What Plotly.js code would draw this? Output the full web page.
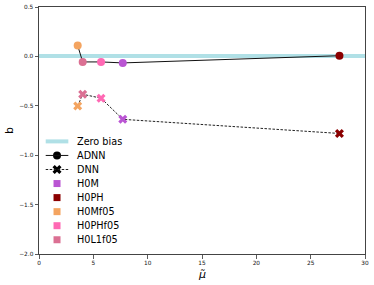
<!DOCTYPE html>
<html>
<head>
<meta charset="utf-8">
<script src="https://cdn.plot.ly/plotly-3.0.1.min.js"></script>
<style>html,body{margin:0;padding:0;background:#fff;}#chart{width:374px;height:285px;}</style>
</head>
<body>
<div id="chart"></div>
<script>
// Data
const categories = ['H0M', 'H0PH', 'H0Mf05', 'H0PHf05', 'H0L1f05'];
const categoryColors = ['#BA55D3', '#8B0000', '#F4A460', '#FF69B4', '#DB7093'];
const muTilde = [7.71, 27.65, 3.56, 5.71, 4.02];
const bADNN = [-0.066, 0.007, 0.11, -0.056, -0.056];
const bDNN = [-0.637, -0.78, -0.503, -0.423, -0.383];
const xTicks = [0, 5, 10, 15, 20, 25, 30];
const yTicks = [0.5, 0.0, -0.5, -1.0, -1.5, -2.0];
const xTitle = '<i>μ̃</i>';
const yTitle = 'b';

// sort by mu for connecting lines
const order = muTilde.map((v, i) => i).sort((a, b) => muTilde[a] - muTilde[b]);
const pick = (arr) => order.map(i => arr[i]);

const traces = [];
traces.push({
  x: pick(muTilde), y: pick(bADNN), mode: 'lines+markers', type: 'scatter',
  line: {color: '#111', width: 1},
  marker: {symbol: 'circle', size: 8, color: pick(categoryColors), opacity: 1},
  showlegend: false, hoverinfo: 'skip'
});
traces.push({
  x: pick(muTilde), y: pick(bDNN), mode: 'lines+markers', type: 'scatter',
  line: {color: '#222', width: 1, dash: '2.5px,1.5px'},
  marker: {symbol: 'x', size: 8, color: pick(categoryColors), line: {width: 0}, opacity: 1},
  showlegend: false, hoverinfo: 'skip'
});

// Manual legend (matplotlib-like compact spacing)
const W = 374, H = 285;
const M = {l: 39, r: 9.3, t: 7.3, b: 30.7};
const pw = W - M.l - M.r, ph = H - M.t - M.b;
const px2x = (px) => (px - M.l) / pw;
const py2y = (py) => (H - M.b - py) / ph;
const legendLabels = ['Zero bias', 'ADNN', 'DNN'].concat(categories);
const row0 = 141.7, rowStep = 14.05;
const symX0 = 45.7, symX1 = 68.3, symXc = 57, textX = 74.5;

const shapes = [];
const annotations = [];
const legMarkX = [], legMarkY = [], legMarkSym = [], legMarkCol = [], legMarkSize = [];
legendLabels.forEach((lab, i) => {
  const py = row0 + i * rowStep;
  annotations.push({
    xref: 'paper', yref: 'paper', x: px2x(textX), y: py2y(py),
    xanchor: 'left', yanchor: 'middle', showarrow: false, text: lab,
    font: {family: 'DejaVu Sans, sans-serif', size: 9.7, color: '#000'}
  });
  if (i === 0) {
    shapes.push({type: 'line', xref: 'paper', yref: 'paper', x0: px2x(symX0), x1: px2x(symX1),
      y0: py2y(py), y1: py2y(py), line: {color: '#B0E0E6', width: 4}});
  } else if (i === 1) {
    shapes.push({type: 'line', xref: 'paper', yref: 'paper', x0: px2x(symX0), x1: px2x(symX1),
      y0: py2y(py), y1: py2y(py), line: {color: '#111', width: 1}});
    legMarkX.push(px2x(symXc)); legMarkY.push(py2y(py)); legMarkSym.push('circle'); legMarkCol.push('#000'); legMarkSize.push(8);
  } else if (i === 2) {
    shapes.push({type: 'line', xref: 'paper', yref: 'paper', x0: px2x(symX0), x1: px2x(symX1),
      y0: py2y(py), y1: py2y(py), line: {color: '#222', width: 1, dash: '2.5px,1.5px'}});
    legMarkX.push(px2x(symXc)); legMarkY.push(py2y(py)); legMarkSym.push('x'); legMarkCol.push('#000'); legMarkSize.push(8);
  } else {
    legMarkX.push(px2x(symXc)); legMarkY.push(py2y(py)); legMarkSym.push('square'); legMarkCol.push(categoryColors[i - 3]); legMarkSize.push(7);
  }
});
traces.push({
  x: legMarkX, y: legMarkY, xaxis: 'x2', yaxis: 'y2', mode: 'markers', type: 'scatter',
  marker: {symbol: legMarkSym, color: legMarkCol, size: legMarkSize, line: {width: 0}, opacity: 1},
  showlegend: false, hoverinfo: 'skip', cliponaxis: false
});

// Axis titles as annotations (fixed pixel placement like the reference)
annotations.push({
  xref: 'paper', yref: 'paper', x: px2x(9.5), y: 0.5, textangle: -90,
  xanchor: 'center', yanchor: 'middle', showarrow: false, text: yTitle,
  font: {family: 'DejaVu Sans, sans-serif', size: 11, color: '#000'}
});
annotations.push({
  xref: 'paper', yref: 'paper', x: 0.5, y: py2y(275),
  xanchor: 'center', yanchor: 'middle', showarrow: false, text: xTitle,
  font: {family: 'DejaVu Sans, sans-serif', size: 11, color: '#000'}
});

const axisCommon = {
  showgrid: false, ticks: 'outside', ticklen: 3.5, tickwidth: 0.8, tickcolor: '#333',
  showline: true, linecolor: '#444', linewidth: 1, mirror: true, automargin: false,
  tickfont: {family: 'DejaVu Sans, sans-serif', size: 5.8, color: '#111'}
};

const layout = {
  width: W, height: H,
  margin: M,
  paper_bgcolor: '#fff', plot_bgcolor: '#fff',
  showlegend: false,
  xaxis: Object.assign({}, axisCommon, {
    range: [0, 30], tickvals: xTicks, ticktext: xTicks.map(String), zeroline: false
  }),
  yaxis: Object.assign({}, axisCommon, {
    range: [-2, 0.5], tickvals: yTicks, ticktext: yTicks.map(v => v.toFixed(1).replace('-', '\u2212')),
    zeroline: true, zerolinecolor: '#B0E0E6', zerolinewidth: 4
  }),
  xaxis2: {overlaying: 'x', range: [0, 1], visible: false, fixedrange: true},
  yaxis2: {overlaying: 'y', range: [0, 1], visible: false, fixedrange: true},
  shapes: shapes,
  annotations: annotations
};

Plotly.newPlot('chart', traces, layout, {displayModeBar: false, staticPlot: true});
</script>
</body>
</html>
